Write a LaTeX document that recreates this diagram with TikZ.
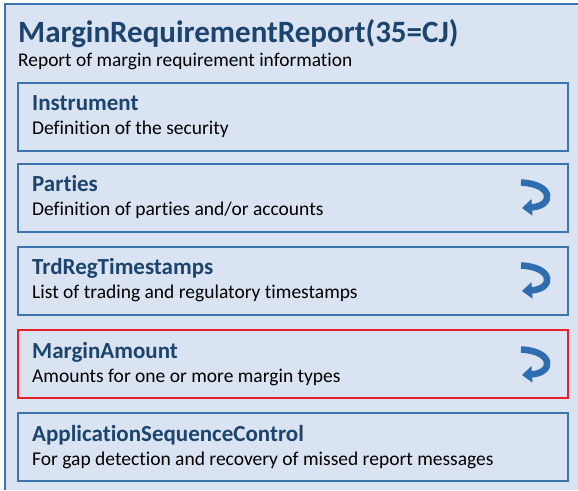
\documentclass[tikz,border=0pt]{standalone}
\usepackage{fontspec}
\setmainfont{Carlito}[Ligatures=NoCommon]
\usetikzlibrary{arrows.meta}
\definecolor{panelfill}{HTML}{D9E3F1}
\definecolor{panelline}{HTML}{3B74B0}
\definecolor{titleblue}{HTML}{1C446E}
\definecolor{arrowblue}{HTML}{2D6DB0}
\definecolor{alertred}{HTML}{E8202A}
\tikzset{
  compbox/.style={draw=panelline, line width=1.3pt, fill=panelfill},
  alertbox/.style={draw=alertred, line width=1.2pt, fill=panelfill},
  comptitle/.style={anchor=base west, inner sep=0pt, text=titleblue, font=\fontsize{23}{26}\selectfont\bfseries},
  compdesc/.style={anchor=base west, inner sep=0pt, text=black, font=\fontsize{19.5}{22}\selectfont},
  repeatarrow/.style={draw=arrowblue, line width=6.5pt, -{Triangle[width=16pt,length=10pt]}}
}
\begin{document}
\begin{tikzpicture}[x=1pt, y=-1pt]
  \useasboundingbox (0,0) rectangle (578,490);
  % message panel
  \fill[panelfill] (5,4) rectangle (578,490);
  \draw[panelline, line width=2pt] (5,490) -- (5,4) -- (578,4);
  \node[anchor=base west, inner sep=0pt, text=titleblue, font=\fontsize{31}{34}\selectfont\bfseries] (msg) at (18,42) {MarginRequirementReport(35=CJ)};
  \node[anchor=base west, inner sep=0pt, font=\fontsize{19.4}{22}\selectfont] (msgdesc) at (18,66) {Report of margin requirement information};

  % component blocks
  \draw[compbox] (18,83) rectangle (568,151);
  \node[comptitle] (t1) at (32,110) {Instrument};
  \node[compdesc] (d1) at (32,134) {Definition of the security};

  \draw[compbox] (18,164) rectangle (568,232);
  \node[comptitle] (t2) at (32,191) {Parties};
  \node[compdesc] (d2) at (32,215) {Definition of parties and/or accounts};

  \draw[compbox] (18,247) rectangle (568,315);
  \node[comptitle] (t3) at (32,274) {TrdRegTimestamps};
  \node[compdesc] (d3) at (32,298) {List of trading and regulatory timestamps};

  \draw[alertbox] (18,330) rectangle (568,398);
  \node[comptitle] (t4) at (32,358) {MarginAmount};
  \node[compdesc] (d4) at (32,382) {Amounts for one or more margin types};

  \draw[compbox] (18,413) rectangle (568,481);
  \node[comptitle] (t5) at (32,441) {ApplicationSequenceControl};
  \node[compdesc] (d5) at (32,465) {For gap detection and recovery of missed report messages};

  % repeating-group markers
  \foreach \cy in {197,280,364} {
    \draw[repeatarrow] (521,\cy-14.5) .. controls (554,\cy-13) and (554,\cy+9) .. (522,\cy+11);
  }
\end{tikzpicture}
\end{document}
